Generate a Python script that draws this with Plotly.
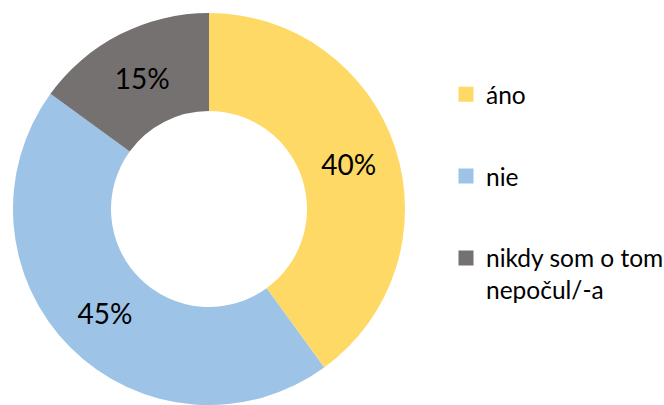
import plotly.graph_objects as go

# Survey answers and their shares
categories = ["áno", "nie", "nikdy som o tom nepočul/-a"]
legend_labels = ["áno", "nie", "nikdy som o tom<br>nepočul/-a"]
shares = [40, 45, 15]
colors = ["#FFD966", "#9DC3E6", "#767171"]

FONT = "Lato, Calibri, sans-serif"

fig = go.Figure()

fig.add_trace(go.Pie(
    labels=categories,
    values=shares,
    hole=0.5,
    sort=False,
    direction="clockwise",
    rotation=0,
    marker=dict(colors=colors, line=dict(width=0)),
    texttemplate="%{percent:.0%}",
    textposition="inside",
    insidetextorientation="horizontal",
    textfont=dict(family=FONT, size=28, color="#000000"),
    showlegend=False,
    domain=dict(x=[13 / 664, 405 / 664], y=[0, 1]),
))

# Legend entries, one group each so they can be spaced apart
for i, (name, col) in enumerate(zip(legend_labels, colors)):
    fig.add_trace(go.Scatter(
        x=[None], y=[None],
        mode="markers",
        marker=dict(symbol="square", size=15, color=col),
        name=name,
        legendgroup=f"g{i}",
        showlegend=True,
        hoverinfo="skip",
    ))

fig.update_layout(
    width=664,
    height=405,
    margin=dict(l=0, r=0, t=13, b=0, autoexpand=False),
    paper_bgcolor="white",
    plot_bgcolor="white",
    xaxis=dict(visible=False),
    yaxis=dict(visible=False),
    legend=dict(
        x=446 / 664,
        y=0.85,
        xanchor="left",
        yanchor="top",
        valign="top",
        tracegroupgap=47,
        font=dict(family=FONT, size=24.5, color="#000000"),
        bgcolor="rgba(0,0,0,0)",
        traceorder="grouped",
    ),
)

fig.write_html("out.html")
